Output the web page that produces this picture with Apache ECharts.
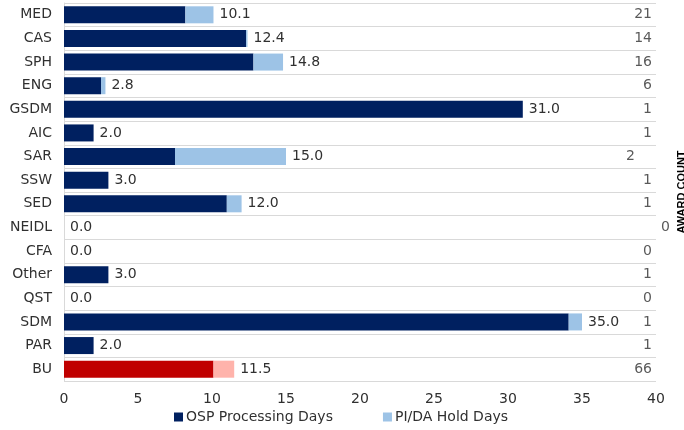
<!DOCTYPE html>
<html>
<head>
<meta charset="utf-8">
<script src="https://cdn.jsdelivr.net/npm/echarts@6/dist/echarts.min.js"></script>
<style>
  html, body { margin: 0; padding: 0; background: #fff; }
  #main { width: 684px; height: 430px; }
</style>
</head>
<body>
<div id="main"></div>
<script>
// 数据
var categories = ['MED', 'CAS', 'SPH', 'ENG', 'GSDM', 'AIC', 'SAR', 'SSW', 'SED', 'NEIDL', 'CFA', 'Other', 'QST', 'SDM', 'PAR', 'BU'];
var ospDays = [8.2, 12.3, 12.8, 2.5, 31.0, 2.0, 7.5, 3.0, 11.0, 0, 0, 3.0, 0, 34.1, 2.0, 10.1];
var holdDays = [1.9, 0.1, 2.0, 0.3, 0, 0, 7.5, 0, 1.0, 0, 0, 0, 0, 0.9, 0, 1.4];
var awardCount = [21, 14, 16, 6, 1, 1, 2, 1, 1, 0, 0, 1, 0, 1, 1, 66];
var xTicks = [0, 5, 10, 15, 20, 25, 30, 35, 40];

var FONT = 'DejaVu Sans';
var TXT = '#303030';
var navy = '#002060', lightBlue = '#9DC3E6';
var red = '#C00000', pink = '#FFB3AB';
var buIndex = categories.indexOf('BU');

var chartDom = document.getElementById('main');
var myChart = echarts.init(chartDom);

var ospData = ospDays.map(function (v, i) {
    return i === buIndex ? { value: v, itemStyle: { color: red } } : v;
});
var holdData = holdDays.map(function (v, i) {
    return i === buIndex ? { value: v, itemStyle: { color: pink } } : v;
});
// award count 标签放在右边
var countData = awardCount.map(function (c, i) {
    var d = { value: [xTicks[xTicks.length - 1], categories[i]] };
    if (categories[i] === 'SAR') d.label = { offset: [-17, 0] };
    if (categories[i] === 'NEIDL') d.label = { offset: [18, 0] };
    return d;
});

var option = {
    animation: false,
    textStyle: { fontFamily: FONT },
    grid: { left: 64, right: 28, top: 3, bottom: 49, outerBoundsMode: 'none', containLabel: false },
    legend: {
        bottom: 1,
        left: 169,
        itemWidth: 9,
        itemHeight: 9,
        itemGap: 50,
        icon: 'rect',
        textStyle: { fontFamily: FONT, fontSize: 14, color: TXT, padding: [0, 0, 0, -2] },
        data: ['OSP Processing Days', 'PI/DA Hold Days']
    },
    xAxis: {
        type: 'value',
        min: 0,
        max: 40,
        interval: 5,
        axisLine: { show: false },
        axisTick: { show: false },
        splitLine: { show: false },
        axisLabel: { fontFamily: FONT, fontSize: 14, color: TXT, margin: 11 }
    },
    yAxis: [{
        type: 'category',
        inverse: true,
        data: categories,
        axisLine: { show: true, lineStyle: { color: '#d9d9d9' } },
        axisTick: { show: false },
        splitLine: { show: true, lineStyle: { color: '#d9d9d9' } },
        axisLabel: { fontFamily: FONT, fontSize: 14, color: TXT, margin: 12 }
    }, {
        type: 'category',
        inverse: true,
        position: 'right',
        data: categories,
        axisLine: { show: false },
        axisTick: { show: false },
        axisLabel: { show: false },
        name: 'AWARD COUNT',
        nameLocation: 'middle',
        nameRotate: 90,
        nameGap: 20,
        nameTextStyle: { fontFamily: 'Liberation Sans', fontSize: 11, fontWeight: 'bold', color: '#000' }
    }],
    series: [
        {
            name: 'OSP Processing Days',
            type: 'bar',
            stack: 'days',
            barCategoryGap: '28%',
            itemStyle: { color: navy },
            data: ospData
        },
        {
            name: 'PI/DA Hold Days',
            type: 'bar',
            stack: 'days',
            itemStyle: { color: lightBlue },
            label: {
                show: true,
                position: 'right',
                distance: 6,
                fontFamily: FONT,
                fontSize: 14,
                color: TXT,
                formatter: function (p) {
                    return (ospDays[p.dataIndex] + holdDays[p.dataIndex]).toFixed(1);
                }
            },
            data: holdData
        },
        {
            name: 'Award Count',
            type: 'scatter',
            symbolSize: 0,
            silent: true,
            label: {
                show: true,
                position: 'left',
                distance: 4,
                fontFamily: FONT,
                fontSize: 14,
                color: TXT,
                formatter: function (p) {
                    return String(awardCount[p.dataIndex]);
                }
            },
            data: countData
        }
    ]
};

myChart.setOption(option);
</script>
</body>
</html>
